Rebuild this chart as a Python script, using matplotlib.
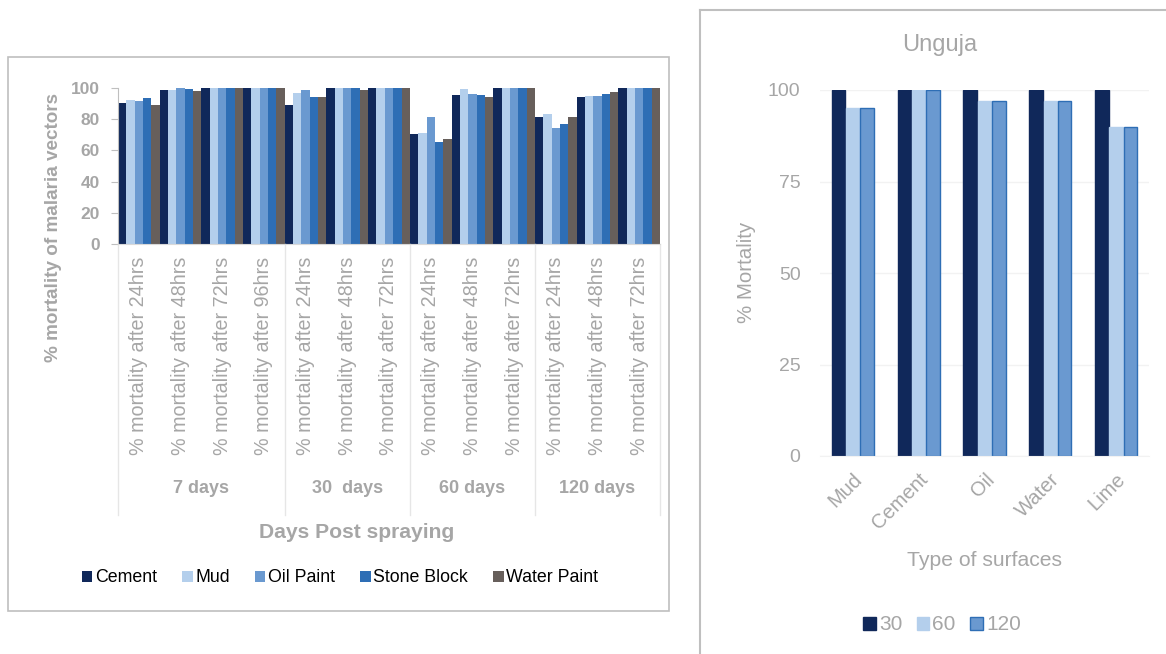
import matplotlib
matplotlib.use("Agg")
import matplotlib.pyplot as plt
import numpy as np
from matplotlib.patches import Rectangle
from matplotlib.lines import Line2D
import matplotlib.transforms as mtransforms

plt.rcParams['font.family'] = ['Liberation Sans', 'DejaVu Sans']

# ---------------- data: left chart ----------------
left_categories = [
    "% mortality after 24hrs", "% mortality after 48hrs", "% mortality after 72hrs", "% mortality after 96hrs",
    "% mortality after 24hrs", "% mortality after 48hrs", "% mortality after 72hrs",
    "% mortality after 24hrs", "% mortality after 48hrs", "% mortality after 72hrs",
    "% mortality after 24hrs", "% mortality after 48hrs", "% mortality after 72hrs",
]
left_groups = ["7 days", "30  days", "60 days", "120 days"]
left_group_sizes = [4, 3, 3, 3]
left_series = ["Cement", "Mud", "Oil Paint", "Stone Block", "Water Paint"]
cement = [90.3, 98.9, 100, 100, 89.3, 100, 100, 70.4, 95.3, 100, 81.4, 94.3, 100]
mud = [92.4, 98.9, 100, 100, 97.1, 100, 100, 71.2, 99.4, 100, 83.3, 95.1, 100]
oil_paint = [91.8, 100, 100, 100, 98.5, 100, 100, 81.4, 96.2, 100, 74.6, 95.1, 100]
stone_block = [93.7, 99.4, 100, 100, 94.3, 99.8, 100, 65.1, 95.6, 100, 77.2, 96.2, 100]
water_paint = [89.2, 98.1, 100, 100, 94.3, 98.9, 100, 67.2, 94.3, 100, 81.4, 97.3, 100]
left_yticks = [0, 20, 40, 60, 80, 100]

# ---------------- data: right chart ----------------
right_title = "Unguja"
right_categories = ["Mud", "Cement", "Oil", "Water", "Lime"]
right_series = ["30", "60", "120"]
r30 = [100, 100, 100, 100, 100]
r60 = [95, 100, 97, 97, 90]
r120 = [95, 100, 97, 97, 90]
right_yticks = [0, 25, 50, 75, 100]

# ---------------- styling ----------------
left_colors = ["#10285A", "#B4CFEC", "#6A99D0", "#2E6EB5", "#675F5B"]
right_colors = ["#10285A", "#B4CFEC", "#6A99D0"]
right_edges = ["#10285A", "#B4CFEC", "#2E6EB5"]
gray = "#A6A6A6"

W, H = 1166, 654
fig = plt.figure(figsize=(W / 100, H / 100), dpi=100)

def fx(px):
    return px / W

def fy(py):
    return 1 - py / H

# frames
fig.add_artist(Rectangle((fx(8), fy(611)), fx(669) - fx(8), fy(57) - fy(611),
                         transform=fig.transFigure, fill=False, edgecolor="#BFBFBF", lw=1.2))
fig.add_artist(Line2D([fx(700), fx(700)], [fy(10), 0], transform=fig.transFigure, color="#BFBFBF", lw=1.5))
fig.add_artist(Line2D([fx(700), 1], [fy(10), fy(10)], transform=fig.transFigure, color="#BFBFBF", lw=1.5))

# ---------------- left chart ----------------
axL = fig.add_axes([fx(118), fy(244), fx(660) - fx(118), fy(88) - fy(244)])
n = len(left_categories)
x = np.arange(n)
left_data = [cement, mud, oil_paint, stone_block, water_paint]
bw = 1.0 / len(left_data)
for i, (vals, col, name) in enumerate(zip(left_data, left_colors, left_series)):
    axL.bar(x - 0.5 + bw * (i + 0.5), vals, width=bw, color=col, label=name, zorder=2, linewidth=0)
axL.set_xlim(-0.5, n - 0.5)
axL.set_ylim(0, 100)
axL.set_yticks(left_yticks)
axL.set_yticklabels([str(t) for t in left_yticks], fontsize=12.5, fontweight="bold", color=gray)
axL.tick_params(axis="y", length=5, color="#BFBFBF", pad=8)
axL.set_xticks(x)
axL.set_xticklabels(left_categories, rotation=90, fontsize=14.2, color=gray, va="top", ha="center")
axL.tick_params(axis="x", length=0, pad=9)
for s in ["top", "right"]:
    axL.spines[s].set_visible(False)
axL.spines["left"].set_color("#BFBFBF")
axL.spines["bottom"].set_color("#D9D9D9")

# group separators and labels
trans = mtransforms.blended_transform_factory(axL.transData, axL.transAxes)
bottom_frac = -(515 - 244) / (244 - 88)
bounds = np.concatenate([[0], np.cumsum(left_group_sizes)]) - 0.5
for b in bounds:
    axL.add_line(Line2D([b, b], [0, bottom_frac], transform=trans, color="#E6E6E6", lw=1, clip_on=False))
for gname, a, b in zip(left_groups, bounds[:-1], bounds[1:]):
    axL.text((a + b) / 2, -(488 - 244) / (244 - 88), gname, transform=trans, ha="center", va="center",
             fontsize=13, fontweight="bold", color=gray)

fig.text(fx(357), fy(533), "Days Post spraying", ha="center", va="center", fontsize=15.2,
         fontweight="bold", color=gray)
fig.text(fx(54), fy(228), "% mortality of malaria vectors", ha="center", va="center", rotation=90,
         fontsize=13.6, fontweight="bold", color=gray)

legL = fig.legend(*axL.get_legend_handles_labels(), loc="center", bbox_to_anchor=(fx(340), fy(578)),
                  ncol=5, frameon=False, fontsize=12.8, handlelength=0.6, handleheight=0.6,
                  handletextpad=0.15, columnspacing=1.4)

# ---------------- right chart ----------------
axR = fig.add_axes([fx(820), fy(456), fx(1149) - fx(820), fy(90) - fy(456)])
m = len(right_categories)
xr = np.arange(m)
right_data = [r30, r60, r120]
rbw = 0.205
for i, (vals, col, ec, name) in enumerate(zip(right_data, right_colors, right_edges, right_series)):
    axR.bar(xr + (i - 1) * (rbw + 0.012), vals, width=rbw, color=col, edgecolor=ec, linewidth=1.0,
            label=name, zorder=2)
axR.set_xlim(-0.5, m - 0.5)
axR.set_ylim(0, 100)
axR.set_yticks(right_yticks)
axR.set_yticklabels([str(t) for t in right_yticks], fontsize=14, color=gray)
axR.tick_params(axis="y", length=0, pad=14)
axR.grid(axis="y", color="#F2F2F2", lw=1, zorder=0)
axR.set_xticks(xr)
axR.set_xticklabels(right_categories, rotation=45, ha="right", rotation_mode="anchor",
                    fontsize=14.5, color=gray)
axR.tick_params(axis="x", length=0, pad=10)
for s in ["top", "right", "left"]:
    axR.spines[s].set_visible(False)
axR.spines["bottom"].set_color("#F2F2F2")
fig.text(fx(940), fy(45), right_title, ha="center", va="center", fontsize=17, color=gray)
fig.text(fx(746), fy(272), "% Mortality", rotation=90, ha="center", va="center", fontsize=14.8, color=gray)
fig.text(fx(984), fy(561), "Type of surfaces", ha="center", va="center", fontsize=15.2, color=gray)
legR = fig.legend(*axR.get_legend_handles_labels(), loc="center", bbox_to_anchor=(fx(942), fy(625)),
                  ncol=3, frameon=False, fontsize=15, handlelength=0.6, handleheight=0.6,
                  handletextpad=0.15, columnspacing=0.7, labelcolor=gray)

fig.savefig("out.png", dpi=100)
